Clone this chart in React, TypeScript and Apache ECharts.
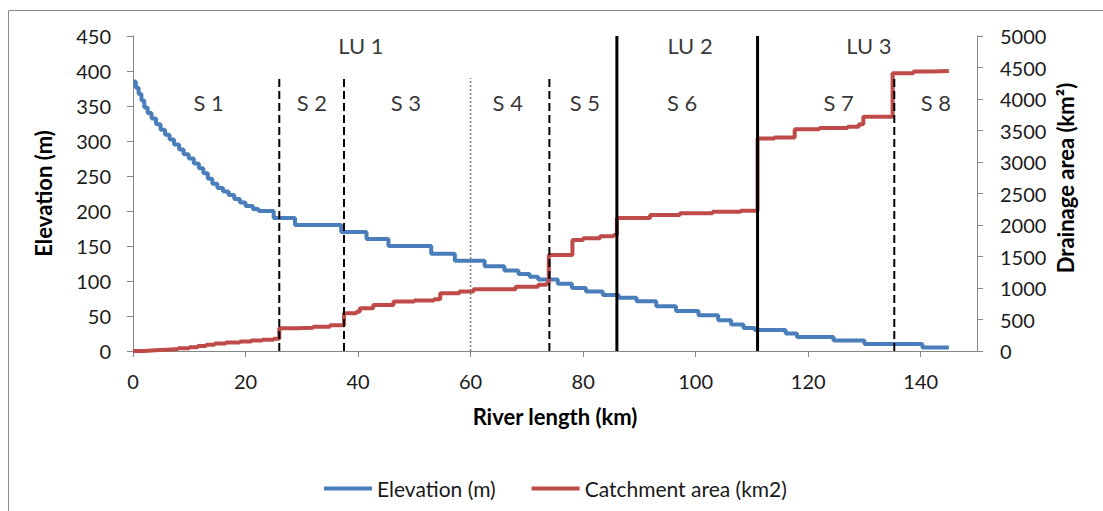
import React, { useEffect, useRef } from "react";
import * as echarts from "echarts";

// River length (km) vs elevation (m), stepped profile
const elevation: [number, number][] = [
  [0, 385], [0.5, 376], [1, 367], [1.5, 358], [2, 348], [2.6, 340], [3.3, 332], [4.1, 324],
  [4.9, 316], [5.7, 309], [6.5, 302], [7.3, 295], [8.2, 288], [9, 281], [9.9, 275], [10.8, 268],
  [11.7, 261], [12.5, 254], [13.3, 246], [14.1, 239], [15, 233], [16, 228], [17, 223], [18, 217],
  [19, 212], [20, 207], [21.3, 203], [22.3, 200], [25, 190], [28.8, 180], [37, 170], [41.5, 160],
  [45.4, 150], [53, 139], [57.2, 129], [62.5, 121], [66, 115], [68.5, 110], [70.5, 106], [72, 102],
  [75.5, 96], [78, 90], [80.5, 85], [83.5, 80], [86.3, 76], [89.5, 71], [93, 64], [96.5, 57],
  [100.5, 51], [104, 44], [106.3, 38], [108.5, 33], [110.5, 30], [116, 25], [118, 20], [124.5, 15],
  [130, 10], [140.3, 5], [145, 5],
];

// River length (km) vs catchment area (km2), stepped profile
const catchment: [number, number][] = [
  [0, 0], [2, 10], [4, 20], [6, 30], [8, 45], [10, 60], [11.5, 80], [13, 100], [14.5, 120],
  [16.5, 135], [19, 150], [21, 165], [23, 180], [25, 195], [26, 360], [29, 370], [32, 385],
  [35, 410], [37.5, 600], [39.7, 625], [40.3, 680], [42.7, 730], [46.3, 785], [50, 800],
  [53.5, 820], [54.6, 915], [58, 945], [60.5, 980], [68, 1020], [72, 1050], [73.5, 1075],
  [73.9, 1525], [78.1, 1760], [80, 1790], [83, 1820], [85.4, 1840], [86, 2110], [91.9, 2160],
  [97.2, 2185], [103, 2210], [108, 2225], [111, 3375], [114, 3390], [117.6, 3520], [122, 3540],
  [127, 3560], [129, 3600], [129.8, 3720], [135, 4410], [138.7, 4435], [142, 4445], [145, 4450],
];

// Segment boundaries (km)
const dashedBoundaries = [26, 37.5, 74, 135.3];
const dottedBoundaries = [60];
const solidBoundaries = [86, 111];
const dashedTop = 390;
const solidTop = 450;

// Segment / landscape unit labels
const segmentLabels = ["S 1", "S 2", "S 3", "S 4", "S 5", "S 6", "S 7", "S 8"];
const segmentLabelKm = [13.45, 31.8, 48.5, 66.6, 80.3, 97.6, 125.4, 142.7];
const segmentLabelElev = 355;
const unitLabels = ["LU 1", "LU 2", "LU 3"];
const unitLabelKm = [40.5, 99, 130.8];
const unitLabelElev = 437;

const FONT = "Lato, 'Open Sans', sans-serif";

export default function App() {
  const ref = useRef<HTMLDivElement>(null);
  useEffect(() => {
    if (!ref.current) return;
    const chart = echarts.init(ref.current, undefined, { renderer: "svg" });
    const axisGray = "#868686";
    const labelColor = "#1a1a1a";

    const boundarySeries: any[] = [];
    dashedBoundaries.forEach((km) =>
      boundarySeries.push({
        type: "line",
        silent: true,
        symbol: "none",
        data: [[km, 0], [km, dashedTop]],
        lineStyle: { color: "#000", width: 2, type: [8, 4] },
        z: 5,
      })
    );
    dottedBoundaries.forEach((km) =>
      boundarySeries.push({
        type: "line",
        silent: true,
        symbol: "none",
        data: [[km, 0], [km, dashedTop]],
        lineStyle: { color: "#7f7f7f", width: 1.5, type: [2, 2] },
        z: 5,
      })
    );
    solidBoundaries.forEach((km) =>
      boundarySeries.push({
        type: "line",
        silent: true,
        symbol: "none",
        data: [[km, 0], [km, solidTop]],
        lineStyle: { color: "#000", width: 3 },
        z: 5,
      })
    );

    const textLabels = [
      ...segmentLabels.map((s, i) => ({ name: s, value: [segmentLabelKm[i], segmentLabelElev] })),
      ...unitLabels.map((s, i) => ({ name: s, value: [unitLabelKm[i], unitLabelElev] })),
    ];

    chart.setOption({
      animation: false,
      textStyle: { fontFamily: FONT },
      grid: { left: 133, right: 126, top: 36, bottom: 160 },
      graphic: [
        {
          type: "rect",
          shape: { x: 8.5, y: 10.5, width: 1300, height: 700 },
          style: { fill: "none", stroke: "#8c8c8c", lineWidth: 1 },
          silent: true,
        },
        {
          type: "text",
          x: 1065,
          y: 178,
          rotation: Math.PI / 2,
          style: {
            text: "Drainage area (km²)",
            font: `bold 22px ${FONT}`,
            fill: "#000",
            align: "center",
            verticalAlign: "middle",
          },
          silent: true,
        },
      ],
      legend: {
        data: ["Elevation (m)", "Catchment area (km2)"],
        top: 473,
        left: 319,
        icon: "rect",
        itemWidth: 48,
        itemHeight: 4,
        itemGap: 36,
        textStyle: { fontSize: 21, color: labelColor, fontFamily: FONT },
      },
      xAxis: {
        type: "value",
        min: 0,
        max: 150,
        interval: 20,
        name: "River length (km)",
        nameLocation: "middle",
        nameGap: 54,
        nameTextStyle: { fontWeight: "bold", fontSize: 22, color: "#000", fontFamily: FONT },
        axisLine: { lineStyle: { color: axisGray } },
        axisTick: { length: 6, lineStyle: { color: axisGray } },
        axisLabel: { fontSize: 20, color: labelColor, margin: 20, showMaxLabel: false },
        splitLine: { show: false },
      },
      yAxis: [
        {
          type: "value",
          min: 0,
          max: 450,
          interval: 50,
          name: "Elevation (m)",
          nameLocation: "middle",
          nameGap: 79,
          nameTextStyle: { fontWeight: "bold", fontSize: 22, color: "#000", fontFamily: FONT },
          axisLine: { show: true, lineStyle: { color: axisGray } },
          axisTick: { show: true, length: 6, lineStyle: { color: axisGray } },
          axisLabel: { fontSize: 20, color: labelColor, margin: 22 },
          splitLine: { show: false },
        },
        {
          type: "value",
          min: 0,
          max: 5000,
          interval: 500,
          position: "right",
          axisLine: { show: true, lineStyle: { color: axisGray } },
          axisTick: { show: true, length: 6, lineStyle: { color: axisGray } },
          axisLabel: {
            fontSize: 20,
            color: labelColor,
            margin: 23,
            formatter: (v: number) => String(v),
          },
          splitLine: { show: false },
        },
      ],
      series: [
        {
          name: "Elevation (m)",
          type: "line",
          step: "end",
          symbol: "none",
          data: elevation,
          yAxisIndex: 0,
          itemStyle: { color: "#4a7ebb" },
          lineStyle: { color: "#4a7ebb", width: 4 },
          z: 3,
        },
        {
          name: "Catchment area (km2)",
          type: "line",
          step: "end",
          symbol: "none",
          data: catchment,
          yAxisIndex: 1,
          itemStyle: { color: "#be4b48" },
          lineStyle: { color: "#be4b48", width: 4 },
          z: 3,
        },
        ...boundarySeries,
        {
          type: "scatter",
          silent: true,
          symbolSize: 0,
          data: textLabels,
          label: {
            show: true,
            position: "inside",
            formatter: "{b}",
            fontSize: 22,
            color: "#000",
            fontFamily: FONT,
          },
          z: 6,
        },
      ],
    });
    return () => chart.dispose();
  }, []);

  return (
    <div
      ref={ref}
      style={{ position: "absolute", left: 0, top: 0, width: 1103, height: 511, background: "#fff" }}
    />
  );
}
